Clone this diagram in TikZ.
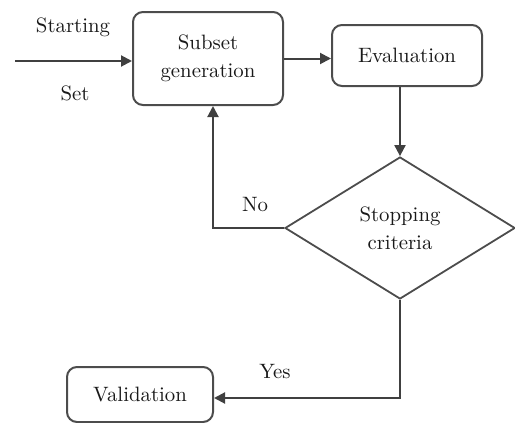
\documentclass[tikz,border=0pt]{standalone}
\usetikzlibrary{shapes.geometric,arrows.meta}
\tikzset{
  stepbox/.style={draw=black!70, line width=1pt, rounded corners=5pt, align=center, inner sep=0pt},
  decision/.style={draw=black!70, line width=0.9pt, diamond, aspect=1.6, align=center, inner sep=0pt,
    minimum width=115pt, minimum height=71pt},
  flow/.style={draw=black!75, line width=1pt, ->},
  lbl/.style={inner sep=0pt}
}
\begin{document}
\begin{tikzpicture}[>={Triangle[length=5.5pt,width=5.5pt]}, x=0.5pt, y=-0.5pt,
  font=\fontsize{10.4}{14}\selectfont, text=black!90]
  \useasboundingbox (0,0) rectangle (515,423);
  % boxes
  \node[stepbox, minimum width=75pt, minimum height=46.5pt] (sub) at (208,58.5) {Subset\\generation};
  \node[stepbox, minimum width=75pt, minimum height=30.5pt] (eval) at (407,55.5) {Evaluation};
  \node[decision] (stop) at (400,228) {Stopping\\criteria};
  \node[stepbox, minimum width=73pt, minimum height=27.5pt] (val) at (140,394.5) {Validation};
  % input
  \coordinate (start) at (15,61);
  \node[lbl] (startlbl) at (73,27) {Starting};
  \node[lbl] (setlbl) at (75,93) {Set};
  % connectors
  \draw[flow] (start) -- (start -| sub.west);
  \draw[flow] (sub.east) -- (sub.east -| eval.west);
  \draw[flow] (stop.north |- eval.south) -- (stop.north);
  \draw[flow] (stop.west) -| ([xshift=2.5pt]sub.south);
  \draw[flow] (stop.south) |- ([yshift=-1.75pt]val.east);
  \node[lbl] (nolbl) at (255,205) {No};
  \node[lbl] (yeslbl) at (275,372) {Yes};
\end{tikzpicture}
\end{document}
